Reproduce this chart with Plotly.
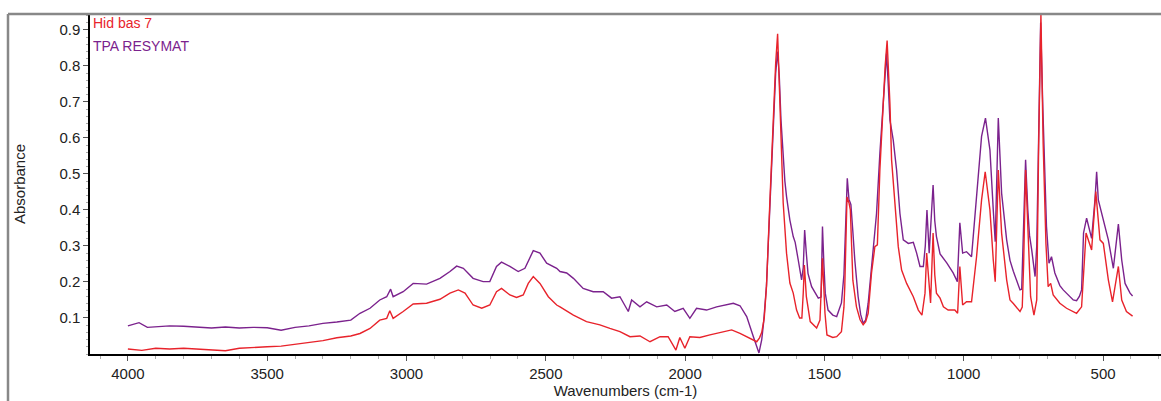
import plotly.graph_objects as go

# Wavenumbers (cm-1) and absorbance
wn_tpa = [4000, 3960, 3930, 3900, 3850, 3800, 3750, 3700, 3650, 3600, 3550, 3500, 3450, 3400, 3350,
          3300, 3250, 3200, 3167, 3131, 3096, 3071, 3057, 3048, 3012, 2976, 2928, 2880, 2844, 2820,
          2796, 2761, 2725, 2701, 2677, 2659, 2629, 2599, 2575, 2557, 2545, 2521, 2497, 2461, 2449,
          2425, 2401, 2366, 2330, 2294, 2264, 2234, 2204, 2192, 2162, 2138, 2102, 2066, 2037, 2007,
          1983, 1959, 1923, 1887, 1851, 1827, 1803, 1779, 1755, 1735, 1725, 1718, 1708, 1696, 1684,
          1675, 1668, 1662, 1656, 1648, 1642, 1636, 1624, 1612, 1605, 1594, 1582, 1576, 1571, 1565,
          1559, 1546, 1522, 1512, 1507, 1502, 1497, 1487, 1470, 1456, 1439, 1430, 1427, 1418, 1412,
          1405, 1398, 1391, 1379, 1370, 1361, 1352, 1343, 1325, 1313, 1301, 1289, 1282, 1277, 1271,
          1265, 1253, 1241, 1229, 1217, 1199, 1181, 1169, 1157, 1145, 1138, 1132, 1124, 1110, 1104,
          1098, 1085, 1061, 1038, 1023, 1014, 1004, 990, 972, 954, 936, 922, 906, 894, 887,
          876, 864, 846, 834, 822, 798, 792, 785, 778, 770, 764, 756, 744, 738, 731,
          724, 716, 703, 694, 685, 673, 655, 643, 619, 607, 595, 585, 577, 570, 559,
          541, 529, 523, 517, 499, 481, 463, 455, 445, 433, 421, 403, 394]
abs_tpa = [0.078, 0.087, 0.074, 0.075, 0.078, 0.077, 0.074, 0.072, 0.075, 0.072, 0.074, 0.073, 0.066, 0.074, 0.078,
           0.085, 0.089, 0.094, 0.113, 0.127, 0.150, 0.159, 0.180, 0.159, 0.173, 0.196, 0.194, 0.210, 0.229, 0.244,
           0.238, 0.210, 0.201, 0.201, 0.243, 0.255, 0.243, 0.229, 0.238, 0.270, 0.287, 0.280, 0.252, 0.238, 0.229,
           0.225, 0.210, 0.182, 0.173, 0.173, 0.155, 0.159, 0.118, 0.150, 0.131, 0.145, 0.131, 0.136, 0.118, 0.127,
           0.099, 0.127, 0.122, 0.131, 0.136, 0.141, 0.134, 0.104, 0.048, 0.003, 0.040, 0.090, 0.190, 0.410, 0.640,
           0.780, 0.840, 0.770, 0.650, 0.530, 0.480, 0.437, 0.372, 0.326, 0.310, 0.261, 0.206, 0.240, 0.344, 0.280,
           0.224, 0.187, 0.155, 0.158, 0.354, 0.250, 0.169, 0.122, 0.108, 0.104, 0.142, 0.220, 0.280, 0.488, 0.430,
           0.415, 0.340, 0.261, 0.159, 0.110, 0.085, 0.095, 0.141, 0.280, 0.390, 0.557, 0.696, 0.780, 0.835, 0.750,
           0.650, 0.594, 0.511, 0.390, 0.317, 0.307, 0.310, 0.280, 0.243, 0.243, 0.300, 0.400, 0.280, 0.469, 0.370,
           0.326, 0.278, 0.253, 0.225, 0.201, 0.364, 0.280, 0.284, 0.270, 0.428, 0.604, 0.655, 0.567, 0.400, 0.312,
           0.655, 0.446, 0.317, 0.260, 0.230, 0.178, 0.180, 0.336, 0.539, 0.400, 0.330, 0.289, 0.215, 0.300, 0.680,
           0.920, 0.680, 0.354, 0.252, 0.270, 0.225, 0.190, 0.178, 0.160, 0.150, 0.148, 0.160, 0.178, 0.336, 0.377,
           0.321, 0.428, 0.506, 0.428, 0.372, 0.317, 0.238, 0.300, 0.361, 0.261, 0.196, 0.169, 0.161]

wn_hid = [4000, 3950, 3900, 3850, 3800, 3750, 3700, 3650, 3600, 3550, 3500, 3450, 3400, 3350, 3300,
          3250, 3200, 3167, 3131, 3096, 3071, 3060, 3048, 3012, 2976, 2928, 2880, 2844, 2814, 2790,
          2761, 2730, 2701, 2677, 2659, 2629, 2605, 2581, 2563, 2545, 2521, 2491, 2461, 2449, 2401,
          2354, 2306, 2270, 2234, 2198, 2162, 2126, 2090, 2061, 2033, 2019, 2001, 1983, 1947, 1911,
          1875, 1833, 1803, 1767, 1743, 1733, 1725, 1716, 1708, 1696, 1684, 1675, 1668, 1662, 1654,
          1648, 1636, 1624, 1612, 1600, 1589, 1581, 1576, 1572, 1565, 1559, 1551, 1528, 1516, 1507,
          1502, 1498, 1491, 1470, 1456, 1439, 1430, 1427, 1419, 1412, 1407, 1398, 1385, 1372, 1361,
          1352, 1343, 1331, 1319, 1310, 1301, 1289, 1282, 1275, 1270, 1265, 1259, 1247, 1235, 1223,
          1205, 1181, 1163, 1150, 1139, 1133, 1126, 1119, 1110, 1104, 1098, 1085, 1073, 1056, 1032,
          1022, 1014, 1004, 990, 972, 954, 936, 923, 906, 894, 887, 876, 864, 846, 834,
          822, 798, 790, 785, 778, 768, 760, 748, 738, 731, 723, 715, 705, 697, 688,
          679, 655, 631, 595, 577, 561, 541, 526, 511, 499, 481, 466, 445, 433, 416,
          394]
abs_hid = [0.014, 0.010, 0.016, 0.014, 0.016, 0.013, 0.012, 0.009, 0.016, 0.017, 0.020, 0.022, 0.027, 0.031, 0.037,
           0.045, 0.050, 0.057, 0.071, 0.094, 0.099, 0.120, 0.099, 0.118, 0.139, 0.141, 0.152, 0.169, 0.178, 0.169,
           0.136, 0.127, 0.136, 0.173, 0.182, 0.164, 0.157, 0.164, 0.196, 0.215, 0.196, 0.159, 0.136, 0.131, 0.108,
           0.090, 0.081, 0.071, 0.062, 0.048, 0.050, 0.034, 0.048, 0.048, 0.011, 0.046, 0.016, 0.048, 0.046, 0.053,
           0.059, 0.067, 0.057, 0.043, 0.034, 0.045, 0.060, 0.100, 0.187, 0.419, 0.650, 0.807, 0.889, 0.743, 0.557,
           0.419, 0.280, 0.197, 0.169, 0.122, 0.100, 0.100, 0.170, 0.247, 0.160, 0.130, 0.090, 0.072, 0.094, 0.266,
           0.170, 0.113, 0.053, 0.046, 0.048, 0.062, 0.130, 0.187, 0.436, 0.420, 0.400, 0.205, 0.131, 0.095, 0.081,
           0.090, 0.113, 0.225, 0.298, 0.303, 0.511, 0.696, 0.800, 0.870, 0.800, 0.696, 0.539, 0.409, 0.298, 0.233,
           0.196, 0.159, 0.122, 0.108, 0.169, 0.280, 0.200, 0.142, 0.336, 0.220, 0.169, 0.155, 0.131, 0.122, 0.122,
           0.113, 0.243, 0.136, 0.145, 0.145, 0.270, 0.428, 0.506, 0.400, 0.261, 0.201, 0.511, 0.335, 0.206, 0.150,
           0.140, 0.118, 0.130, 0.250, 0.511, 0.307, 0.159, 0.108, 0.150, 0.585, 0.944, 0.585, 0.307, 0.187, 0.196,
           0.164, 0.141, 0.127, 0.113, 0.131, 0.336, 0.289, 0.451, 0.317, 0.307, 0.206, 0.145, 0.243, 0.150, 0.118,
           0.105]

x_ticks = [4000, 3500, 3000, 2500, 2000, 1500, 1000, 500]
y_ticks = [0.1, 0.2, 0.3, 0.4, 0.5, 0.6, 0.7, 0.8, 0.9]

RED = "#e8232b"
PURPLE = "#7b228d"
FONT = "Arial, Liberation Sans, sans-serif"

fig = go.Figure()
fig.add_trace(go.Scatter(x=wn_tpa, y=abs_tpa, mode="lines", name="TPA RESYMAT",
                         line=dict(color=PURPLE, width=1.4), showlegend=False))
fig.add_trace(go.Scatter(x=wn_hid, y=abs_hid, mode="lines", name="Hid bas 7",
                         line=dict(color=RED, width=1.4), showlegend=False))

fig.update_layout(
    width=1161, height=401,
    margin=dict(l=90, r=0, t=14, b=47),
    paper_bgcolor="white", plot_bgcolor="white",
    font=dict(family=FONT, size=15, color="#222"),
    xaxis=dict(range=[4136, 292], tickvals=x_ticks, ticktext=[str(v) for v in x_ticks],
               showgrid=False, zeroline=False, showline=True, linecolor="black", linewidth=1.5,
               ticks="outside", ticklen=5, tickcolor="#555", tickfont=dict(size=15, color="#222"),
               minor=dict(dtick=100, ticks="outside", ticklen=3, tickcolor="#aaa"),
               title=dict(text="Wavenumbers (cm-1)", font=dict(size=15, color="#222"), standoff=4)),
    yaxis=dict(range=[0, 0.944], tickvals=y_ticks, ticktext=[f"{v:.1f}" for v in y_ticks],
               showgrid=False, zeroline=False, showline=True, linecolor="black", linewidth=1.5,
               ticks="outside", ticklen=5, tickcolor="#555", tickfont=dict(size=15, color="#222"),
               minor=dict(dtick=0.02, ticks="outside", ticklen=2, tickcolor="#aaa"),
               title=dict(text="Absorbance", font=dict(size=15, color="#222"), standoff=30)),
    annotations=[
        dict(text="Hid bas 7", x=0, y=1.0, xref="paper", yref="paper", xanchor="left", yanchor="top",
             xshift=1, yshift=1, showarrow=False, font=dict(family=FONT, size=14, color=RED)),
        dict(text="TPA RESYMAT", x=0, y=1.0, xref="paper", yref="paper", xanchor="left", yanchor="top",
             xshift=1, yshift=-22, showarrow=False, font=dict(family=FONT, size=14, color=PURPLE)),
    ],
    shapes=[
        dict(type="line", xref="paper", yref="paper", x0=-82 / 1071, x1=1.01, y0=1, y1=1,
             line=dict(color="#888", width=2.5)),
        dict(type="line", xref="paper", yref="paper", x0=-82 / 1071, x1=-82 / 1071, y0=1, y1=-0.2,
             line=dict(color="#888", width=2.5)),
    ],
)

fig.write_html("out.html")
